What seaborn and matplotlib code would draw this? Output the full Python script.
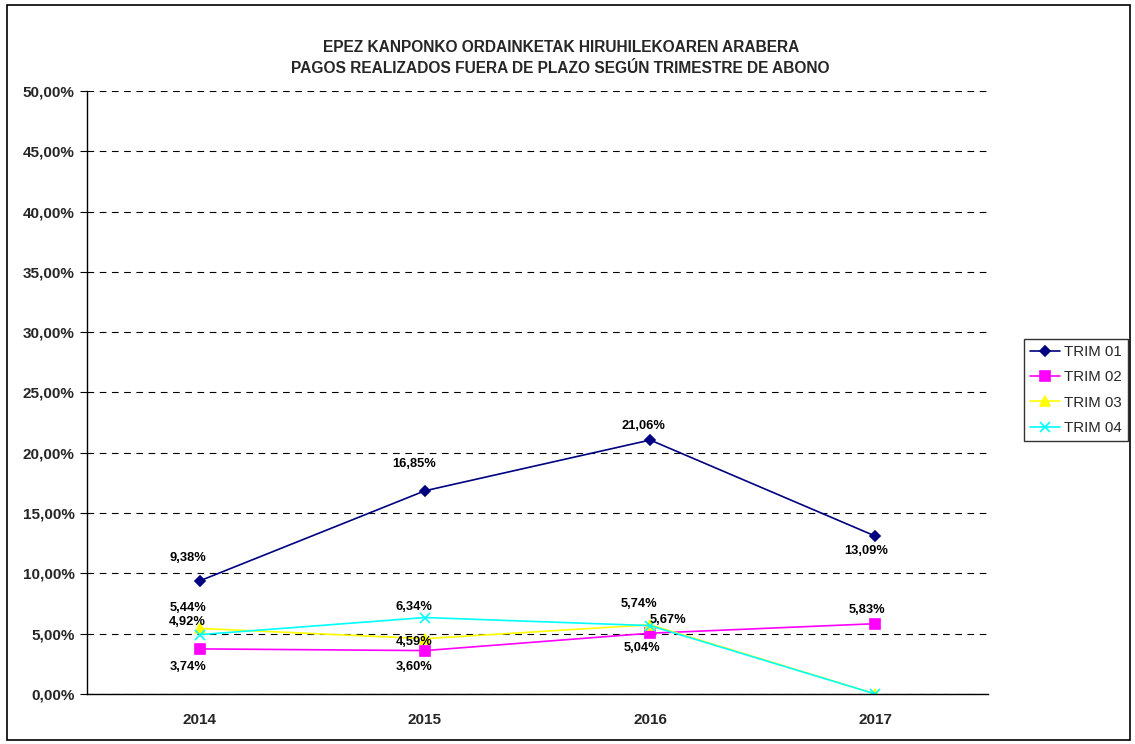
import numpy as np
import pandas as pd
import matplotlib
matplotlib.use("Agg")
import matplotlib.pyplot as plt
import matplotlib.ticker as mticker
from matplotlib.patches import Rectangle
import seaborn as sns

# Chart data (percent)
years = ["2014", "2015", "2016", "2017"]
series_names = ["TRIM 01", "TRIM 02", "TRIM 03", "TRIM 04"]
trim01 = [9.38, 16.85, 21.06, 13.09]
trim02 = [3.74, 3.60, 5.04, 5.83]
trim03 = [5.44, 4.59, 5.74, 0.0]
trim04 = [4.92, 6.34, 5.67, 0.0]
title = "EPEZ KANPONKO ORDAINKETAK HIRUHILEKOAREN ARABERA\nPAGOS REALIZADOS FUERA DE PLAZO SEGÚN TRIMESTRE DE ABONO"

# styles
colors = ["#000080", "#FF00FF", "#FFFF00", "#00FFFF"]
markers = ["D", "s", "^", "x"]
marker_sizes = [5.5, 6.5, 6.5, 6.5]
# label offsets in pixels (None = no label)
label_offsets = [
    [(-12, 23), (-11, 27), (-7, 14), (-9, -15)],
    [(-12, -18), (-11, -16), (-8, -15), (-8, 14)],
    [(-12, 20), (-11, -3), (-11, 21), None],
    [(-12, 13), (-11, 11), (18, 6), None],
]

all_values = [trim01, trim02, trim03, trim04]

sns.set_style("white")
plt.rcParams["font.family"] = ["Liberation Sans", "DejaVu Sans"]

fig = plt.figure(figsize=(11.35, 7.44), dpi=100)
ax = fig.add_axes([0.0767, 0.0672, 0.7938, 0.8105])

# one lineplot per series (filled and line-art markers can't mix in one call)
for name, vals, c, m, ms in zip(series_names, all_values, colors, markers, marker_sizes):
    d = pd.DataFrame({"year": years, "value": np.array(vals) / 100})
    sns.lineplot(data=d, x="year", y="value", color=c, marker=m, sort=False,
                 linewidth=1.2, markersize=ms, markeredgewidth=1.2,
                 markeredgecolor=c, label=name, ax=ax)

for vals, offs in zip(all_values, label_offsets):
    for i, (v, off) in enumerate(zip(vals, offs)):
        if off is None:
            continue
        ax.annotate(f"{v:.2f}%".replace(".", ","), (i, v / 100), xytext=off,
                    textcoords="offset pixels", ha="center", va="center",
                    fontsize=9.3, fontweight="bold", color="black")

ax.set_xlim(-0.5, 3.5)
ax.set_ylim(0, 0.5)
ax.yaxis.set_major_locator(mticker.MultipleLocator(0.05))
ax.yaxis.set_major_formatter(mticker.FuncFormatter(lambda v, p: f"{v*100:.2f}%".replace(".", ",")))
ax.grid(axis="y", color="black", linestyle=(0, (6, 5)), linewidth=0.8)
ax.grid(axis="x", visible=False)
ax.set_xlabel("")
ax.set_ylabel("")
ax.set_xticks(range(4))
ax.set_xticks([0.5, 1.5, 2.5], minor=True)
ax.tick_params(axis="x", which="major", length=0, pad=14)
ax.tick_params(axis="x", which="minor", length=5, direction="out", color="black")
ax.tick_params(axis="y", length=5, direction="out", color="black", pad=4, left=True)
for lab in ax.get_xticklabels() + ax.get_yticklabels():
    lab.set_fontweight("bold")
    lab.set_fontsize(11)
for s in ["top", "right"]:
    ax.spines[s].set_visible(False)
for s in ["left", "bottom"]:
    ax.spines[s].set_color("black")
    ax.spines[s].set_linewidth(1)

fig.text(0.494, 0.922, title, ha="center", va="center", fontsize=11.2,
         fontweight="bold", linespacing=1.5)

leg = ax.legend(loc="center left", bbox_to_anchor=(1024 / 1135, (744 - 390) / 744),
                bbox_transform=fig.transFigure, frameon=True,
                fontsize=10.8, fancybox=False, edgecolor="black",
                borderpad=0.4, borderaxespad=0, handlelength=2.0, handletextpad=0.3,
                labelspacing=0.75)
leg.get_frame().set_linewidth(1)

fig.patches.append(Rectangle((0.006, 0.005), 0.99, 0.988, transform=fig.transFigure,
                             fill=False, edgecolor="black", linewidth=1.2))

fig.savefig("out.png", dpi=100)
